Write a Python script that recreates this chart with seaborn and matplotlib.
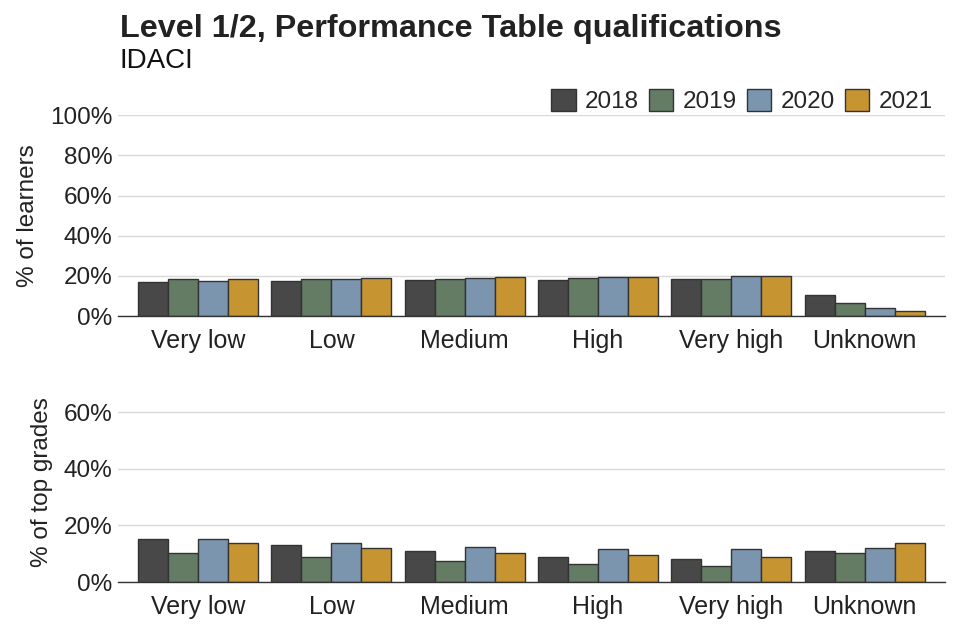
import matplotlib

matplotlib.use("Agg")

import matplotlib.pyplot as plt
import pandas as pd
import seaborn as sns
from matplotlib.ticker import FuncFormatter

# IDACI bands and years
categories = ["Very low", "Low", "Medium", "High", "Very high", "Unknown"]
years = ["2018", "2019", "2020", "2021"]

# % of learners, one list per year (same order as categories)
learners_2018 = [17.0, 17.6, 18.0, 18.2, 18.7, 10.5]
learners_2019 = [18.3, 18.3, 18.7, 18.8, 18.7, 6.3]
learners_2020 = [17.5, 18.7, 19.2, 19.7, 19.8, 4.3]
learners_2021 = [18.5, 19.0, 19.7, 19.7, 20.0, 2.5]

# % of top grades
top_2018 = [15.3, 12.9, 10.9, 9.0, 8.0, 11.0]
top_2019 = [10.3, 8.8, 7.3, 6.4, 5.6, 10.4]
top_2020 = [15.3, 13.6, 12.5, 11.5, 11.5, 11.9]
top_2021 = [13.9, 12.0, 10.4, 9.5, 8.7, 13.9]

colors = ["#484848", "#647c63", "#7b95af", "#c69532"]


def long_table(series):
    rows = []
    for year, values in zip(years, series):
        for cat, val in zip(categories, values):
            rows.append({"band": cat, "year": year, "value": val})
    return pd.DataFrame(rows)


learners = long_table([learners_2018, learners_2019, learners_2020, learners_2021])
top_grades = long_table([top_2018, top_2019, top_2020, top_2021])

sns.set_theme(style="white")
plt.rcParams["font.family"] = ["Liberation Sans", "DejaVu Sans"]

fig = plt.figure(figsize=(9.6, 6.4), dpi=100)
ax_top = fig.add_axes([0.123, 0.506, 0.861, 0.314])
ax_bot = fig.add_axes([0.123, 0.0906, 0.861, 0.312])

panels = [
    (ax_top, learners, "% of learners", 100, [0, 20, 40, 60, 80, 100]),
    (ax_bot, top_grades, "% of top grades", 70.5, [0, 20, 40, 60]),
]

for ax, data, ylabel, ymax, yticks in panels:
    sns.barplot(
        data=data,
        x="band",
        y="value",
        hue="year",
        order=categories,
        hue_order=years,
        palette=colors,
        saturation=1,
        width=0.9,
        edgecolor="#333333",
        linewidth=1,
        legend=ax is ax_top,
        ax=ax,
    )
    ax.set_ylim(0, ymax)
    ax.set_xlim(-0.6, 5.6)
    ax.set_yticks(yticks)
    ax.yaxis.set_major_formatter(FuncFormatter(lambda v, _: f"{v:.0f}%"))
    ax.grid(axis="y", color="#d9d9d9", linewidth=1)
    ax.set_axisbelow(True)
    for side in ["top", "right", "left"]:
        ax.spines[side].set_visible(False)
    ax.spines["bottom"].set_color("#333333")
    ax.spines["bottom"].set_linewidth(1)
    ax.set_xlabel("")
    ax.set_ylabel(ylabel, fontsize=17.5, color="#222222", labelpad=8)
    ax.tick_params(axis="y", labelsize=17.5, colors="#222222", length=0, pad=4)
    ax.tick_params(axis="x", labelsize=18, colors="#222222", length=0, pad=9)

handles, labels = ax_top.get_legend_handles_labels()
ax_top.get_legend().remove()
fig.legend(
    handles,
    labels,
    loc="center right",
    bbox_to_anchor=(0.982, 1 - 101 / 640),
    ncol=4,
    frameon=False,
    fontsize=17.5,
    handlelength=1.0,
    handleheight=1.0,
    handletextpad=0.4,
    columnspacing=0.4,
    borderaxespad=0,
)

fig.text(0.125, 1 - 29 / 640, "Level 1/2, Performance Table qualifications",
         fontsize=23.3, fontweight="bold", color="#222222", va="center", ha="left")
fig.text(0.125, 1 - 61 / 640, "IDACI", fontsize=20, color="#111111",
         va="center", ha="left")

fig.savefig("out.png", dpi=100)
plt.close(fig)
